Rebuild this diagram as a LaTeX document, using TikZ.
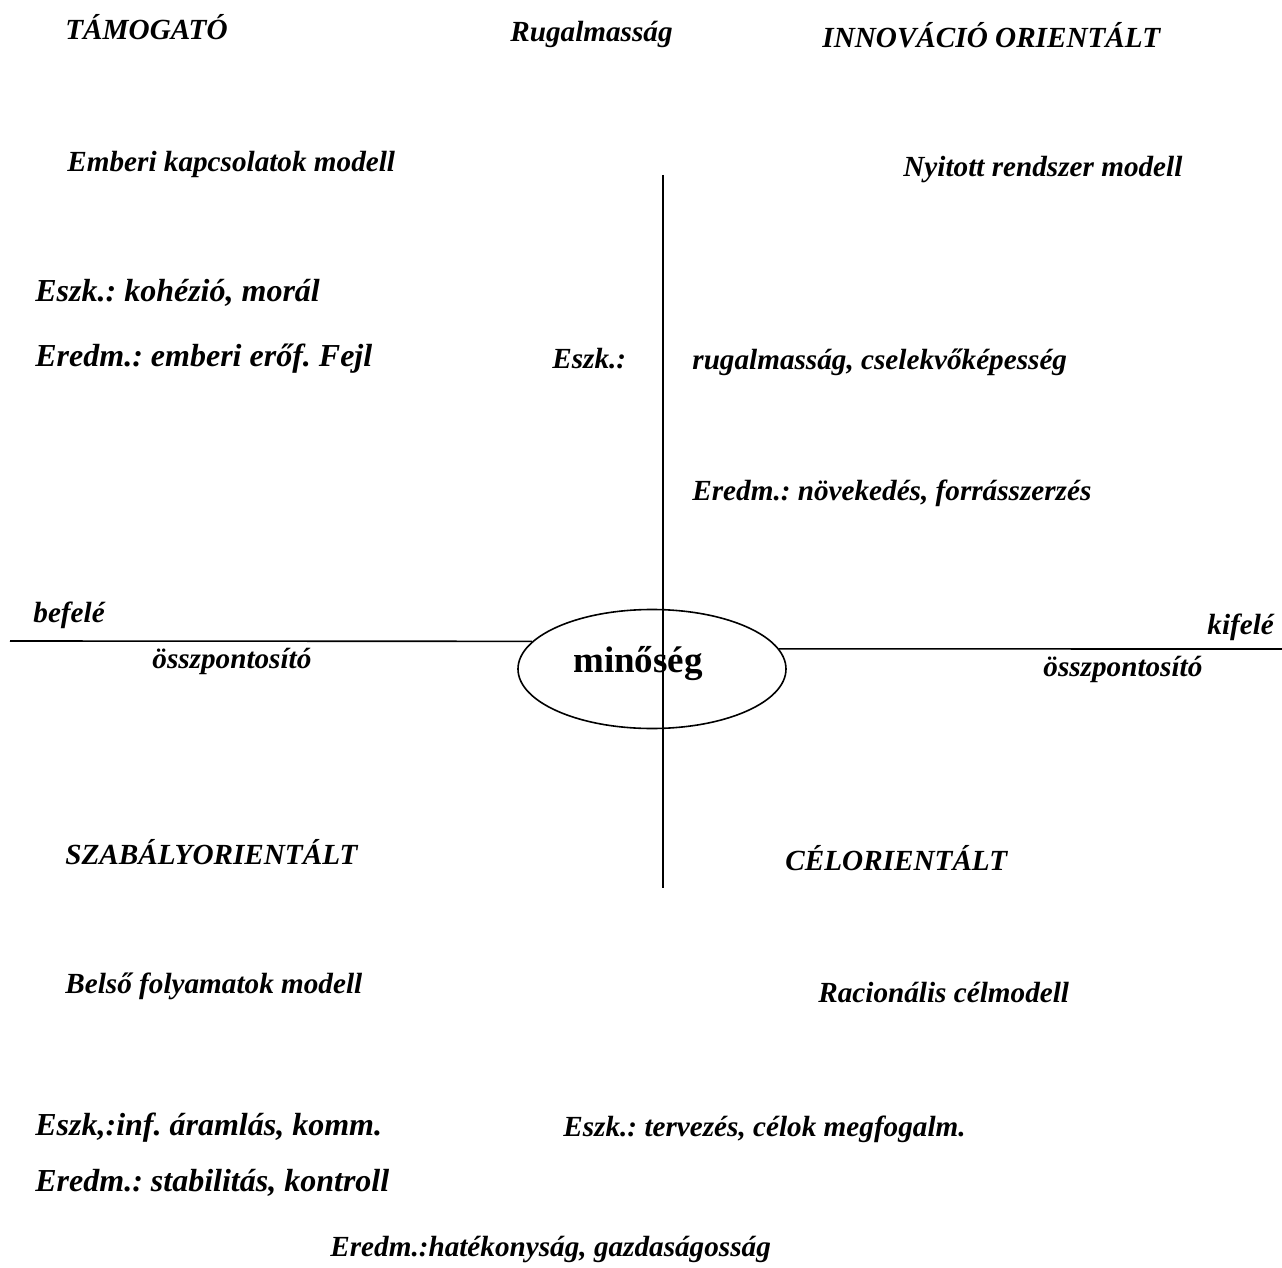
\documentclass[tikz,border=0pt]{standalone}
\usepackage{fontspec}
\setmainfont{Liberation Serif}
\usetikzlibrary{shapes.geometric}
\frenchspacing
\begin{document}
\begin{tikzpicture}[x=0.5pt,y=-0.5pt,
  lbl/.style={anchor=base west,inner sep=0pt,font=\fontsize{14.6}{17}\selectfont\bfseries\itshape},
  lblbig/.style={lbl,font=\fontsize{16}{19}\selectfont\bfseries\itshape},
  axis/.style={line width=0.8pt,black},
  oval/.style={draw,ellipse,line width=0.8pt,minimum width=134pt,minimum height=59.5pt,inner sep=0pt}]
\useasboundingbox (0,0) rectangle (1282,1268);
% top
\node[lbl] (tam) at (65,40) {TÁMOGATÓ};
\node[lbl] (rug) at (510,42) {Rugalmasság};
\node[lbl] (inn) at (822,48) {INNOVÁCIÓ ORIENTÁLT};
\node[lbl] (emb) at (67,172) {Emberi kapcsolatok modell};
\node[lbl] (nyi) at (903,177) {Nyitott rendszer modell};
\node[lblbig] (e1) at (35,301) {Eszk.: kohézió, morál};
\node[lblbig] (e2) at (35,366) {Eredm.: emberi erőf. Fejl};
\node[lbl] (e3) at (552,368) {Eszk.:};
\node[lbl] (e4) at (692,370) {rugalmasság, cselekvőképesség};
\node[lbl] (e5) at (692,500) {Eredm.: növekedés, forrásszerzés};
% middle
\node[lbl] (bef) at (33,622) {befelé};
\node[lbl] (osl) at (152,668) {összpontosító};
\node[lbl] (kif) at (1207,634) {kifelé};
\node[lbl] (osr) at (1043,676) {összpontosító};
% bottom
\node[lbl] (sza) at (65,864) {SZABÁLYORIENTÁLT};
\node[lbl] (cel) at (785,870) {CÉLORIENTÁLT};
\node[lbl] (bel) at (65,993) {Belső folyamatok modell};
\node[lbl] (rac) at (818,1002) {Racionális célmodell};
\node[lblbig] (b1) at (35,1135) {Eszk,:inf. áramlás, komm.};
\node[lbl] (b2) at (563,1136) {Eszk.: tervezés, célok megfogalm.};
\node[lblbig] (b3) at (35,1191) {Eredm.: stabilitás, kontroll};
\node[lbl] (b4) at (330,1256) {Eredm.:hatékonyság, gazdaságosság};
% axes and ellipse
\node[oval] (q) at (652,669) {};
\coordinate (vt) at (663,175);
\coordinate (vb) at (663,888);
\coordinate (hl) at (10,641);
\coordinate (hr) at (1282,649);
\draw[axis] (vt) -- (vb);
\draw[axis] (hl) -- (q.167);
\draw[axis] (q.9) -- (hr);
\node[anchor=base,inner sep=0pt,font=\fontsize{18.5}{22}\selectfont\bfseries] (qt) at (638,672) {minőség};
\end{tikzpicture}
\end{document}
